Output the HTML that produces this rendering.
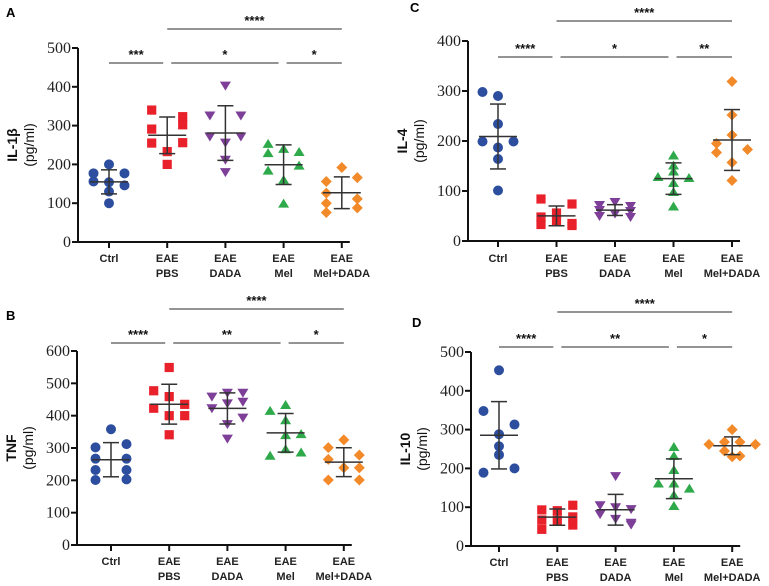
<!DOCTYPE html>
<html><head><meta charset="utf-8"><style>
body{margin:0;background:#fff;}
svg{display:block;}
</style></head><body>
<svg id="fig" width="769" height="586" viewBox="0 0 769 586"></svg>
<script>
const categories=[["Ctrl"],["EAE","PBS"],["EAE","DADA"],["EAE","Mel"],["EAE","Mel+DADA"]];
const groupColors=["#2d4e9e","#e8212b","#7d3f98","#2faa4b","#f28a2a"];
const groupShapes=["circle","square","down","up","diamond"];

const A_ticks=[0,100,200,300,400,500];
const A_ctrl=[177,156,200,177,146,130,100,154];
const A_pbs=[340,291,323,302,255,233,200,256];
const A_dada=[403,326,326,272,272,256,212,180];
const A_mel=[253,229,240,232,184,197,160,99];
const A_meldada=[192,156,166,126,111,100,88,76];
const A_spread=[[-1,-1,0,1,1,0,0,0],[-1,-1,1,1,-1,0,0,1],[0,-1,1,-1,1,0,0,0],[-1,-1,0,1,-1,1,0,0],[0,-1,1,-1,1,-1,1,-1]];
const A_stars=["***","*","*","****"];

const C_ticks=[0,100,200,300,400];
const C_ctrl=[298,290,234,199,199,187,164,101];
const C_pbs=[84,74,56,33,41,31,48,35];
const C_dada=[78,72,70,62,60,55,50,48];
const C_mel=[171,151,128,126,116,98,69,139];
const C_meldada=[319,252,212,195,177,183,157,121];
const C_spread=[[-1,0,0,-1,1,0,0,0],[-1,1,0,-1,0,1,-1,1],[0,-1,1,-1,1,0,-1,1],[0,0,-1,1,0,0,0,0],[0,0,0,-1,-1,1,0,0]];
const C_stars=["****","*","**","****"];

const B_ticks=[0,100,200,300,400,500,600];
const B_ctrl=[358,302,312,267,267,232,232,201,203];
const B_pbs=[549,477,459,423,435,400,400,341];
const B_dada=[459,471,471,438,443,423,394,374,329];
const B_mel=[433,415,386,340,343,276,296,286];
const B_meldada=[325,301,278,265,239,239,201,201];
const B_spread=[[0,-1,1,-1,1,-1,1,-1,1],[0,-1,0,-1,1,0,1,0],[-1,0,1,0,1,-1,1,0,0],[0,-1,0,0,1,-1,0,1],[0,-1,1,-1,0,1,-1,1]];
const B_stars=["****","**","*","****"];

const D_ticks=[0,100,200,300,400,500];
const D_ctrl=[453,348,313,288,257,235,189,200];
const D_pbs=[93,91,105,67,54,43,67,75];
const D_dada=[180,105,95,100,82,70,55,60];
const D_mel=[255,232,196,161,148,161,131,103];
const D_meldada=[300,268,268,262,262,245,232,230];
const D_spread=[[0,-1,1,0,0,0,-1,1],[-1,0,1,-1,1,-1,0,1],[0,-1,1,0,-1,0,1,1],[0,0,0,-1,1,0,0,0],[0,-0.5,0.5,-1.5,1.5,-0.5,0.5,0]];
const D_stars=["****","**","*","****"];

const panels=[
 {id:"A",label:"IL-1β",ax:78,top:48,bot:242,cx0:109,step:58.2,max:500,ticks:A_ticks,groups:[A_ctrl,A_pbs,A_dada,A_mel,A_meldada],spread:A_spread,stars:A_stars,topY:29,rowY:63,lx:6,ly:17,catY:262},
 {id:"C",label:"IL-4",ax:468,top:41,bot:241,cx0:498,step:58.5,max:400,ticks:C_ticks,groups:[C_ctrl,C_pbs,C_dada,C_mel,C_meldada],spread:C_spread,stars:C_stars,topY:21,rowY:57,lx:410,ly:12,catY:262},
 {id:"B",label:"TNF",ax:77,top:351,bot:545,cx0:111,step:58.2,max:600,ticks:B_ticks,groups:[B_ctrl,B_pbs,B_dada,B_mel,B_meldada],spread:B_spread,stars:B_stars,topY:309,rowY:343,lx:6,ly:320,catY:565},
 {id:"D",label:"IL-10",ax:471,top:352,bot:546,cx0:499,step:58.3,max:500,ticks:D_ticks,groups:[D_ctrl,D_pbs,D_dada,D_mel,D_meldada],spread:D_spread,stars:D_stars,topY:312,rowY:347,lx:412,ly:327,catY:566}
];
const SANS='"Liberation Sans", Arial, sans-serif';
const SERIF='"Liberation Serif", "DejaVu Serif", serif';
const NS="http://www.w3.org/2000/svg";
const svg=document.getElementById("fig");
function mk(tag,attrs,parent){const e=document.createElementNS(NS,tag);for(const k in attrs)e.setAttribute(k,attrs[k]);(parent||svg).appendChild(e);return e;}
function line(x1,y1,x2,y2,stroke,w,p){return mk("line",{x1,y1,x2,y2,stroke,"stroke-width":w},p);}
function marker(shape,x,y,color,p){
 const r=5;let e;
 if(shape==="circle")e=mk("circle",{cx:x,cy:y,r:r,fill:color},p);
 else if(shape==="square")e=mk("rect",{x:x-4.6,y:y-4.6,width:9.2,height:9.2,fill:color},p);
 else if(shape==="down")e=mk("polygon",{points:`${x-5.5},${y-4} ${x+5.5},${y-4} ${x},${y+5}`,fill:color},p);
 else if(shape==="up")e=mk("polygon",{points:`${x-5.5},${y+4} ${x+5.5},${y+4} ${x},${y-5}`,fill:color},p);
 else e=mk("polygon",{points:`${x},${y-5.5} ${x+5.5},${y} ${x},${y+5.5} ${x-5.5},${y}`,fill:color},p);
 return e;
}
panels.forEach(P=>{
 const g=mk("g",{});
 
 
 const yS=v=>P.bot-(v/P.max)*(P.bot-P.top);
 const xS=i=>P.cx0+i*P.step;
 const pl=mk("text",{x:P.lx,y:P.ly,"font-family":SANS,"font-size":13,"font-weight":"bold",fill:"#000"},g);pl.textContent=P.id;
 
 
 const endX=xS(4)+8;
 const ya=line(P.ax,P.top,P.ax,P.bot,"#111",2,g);
 
 
 const xa=line(P.ax-1,P.bot,endX,P.bot,"#111",2,g);
 
 
 P.ticks.forEach(t=>{
  line(P.ax-6,yS(t),P.ax,yS(t),"#111",2,g);
  const tx=mk("text",{x:P.ax-7,y:yS(t)+5,"font-family":SERIF,"font-size":16,fill:"#222","text-anchor":"end"},g);tx.textContent=t;
  
  
 });
 const yl=mk("text",{transform:`translate(${P.ax-61},${(P.top+P.bot)/2}) rotate(-90)`,"font-family":SANS,"font-size":14,fill:"#111","text-anchor":"middle"},g);
 
 
 const t1=mk("tspan",{x:0,dy:0,"font-weight":"bold"},yl);t1.textContent=P.label;
 const t2=mk("tspan",{x:0,dy:17},yl);t2.textContent="(pg/ml)";
 categories.forEach((c,i)=>{
  line(xS(i),P.bot,xS(i),P.bot+6,"#111",2,g);
  c.forEach((s,j)=>{const t=mk("text",{x:xS(i),y:P.catY+j*15,"font-family":SANS,"font-size":11,"font-weight":"bold",fill:"#222","text-anchor":"middle"},g);t.textContent=s;
   
   });
 });
 P.groups.forEach((vals,i)=>{
  const gg=mk("g",{},g);
  
  
  vals.forEach((v,k)=>{const m=marker(groupShapes[i],xS(i)+(P.spread[i][k]||0)*15.5,yS(v),groupColors[i],gg);
   
   });
  const n=vals.length,mean=vals.reduce((a,b)=>a+b,0)/n;
  const sd=Math.sqrt(vals.reduce((a,b)=>a+(b-mean)*(b-mean),0)/(n-1));
  const x=xS(i);
  const ml=line(x-19,yS(mean),x+19,yS(mean),"#333",1.5,gg);
  
  
  line(x,yS(mean+sd),x,yS(mean-sd),"#333",1.5,gg);
  line(x-8,yS(mean+sd),x+8,yS(mean+sd),"#333",1.5,gg);
  line(x-8,yS(mean-sd),x+8,yS(mean-sd),"#333",1.5,gg);
 });
 const segs=[[xS(0),xS(1)-4],[xS(1)+4,xS(3)-5],[xS(3)+3,xS(4)]];
 segs.forEach((s,k)=>{
  const l=line(s[0],P.rowY,s[1],P.rowY,"#555",1.3,g);
  
  
  const t=mk("text",{x:(s[0]+s[1])/2,y:P.rowY-4,"font-family":SANS,"font-size":13,"font-weight":"bold",fill:"#111","text-anchor":"middle"},g);t.textContent=P.stars[k];
  
  
 });
 const lt=line(xS(1),P.topY,xS(4),P.topY,"#555",1.3,g);
 
 
 const st=mk("text",{x:(xS(1)+xS(4))/2,y:P.topY-4,"font-family":SANS,"font-size":13,"font-weight":"bold",fill:"#111","text-anchor":"middle"},g);st.textContent=P.stars[3];
 
 
});
</script>
</body></html>
